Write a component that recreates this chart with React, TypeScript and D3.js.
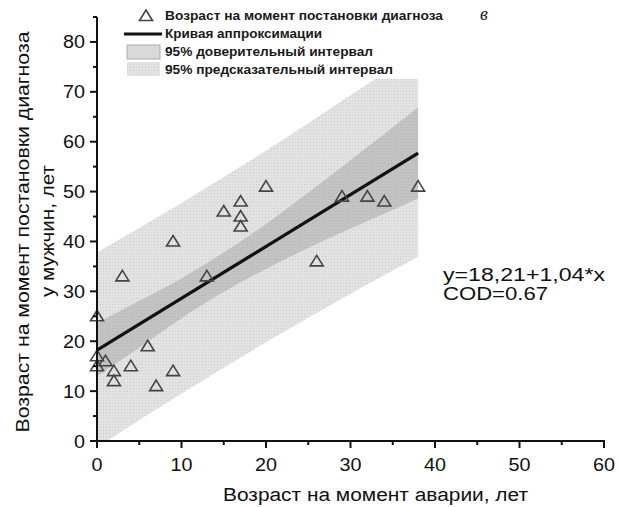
import React from "react";
import * as d3 from "d3";

// Scatter data: age at accident (x) vs age at diagnosis, men (y)
const pointX = [0, 0, 0, 1, 2, 2, 3, 4, 6, 7, 9, 9, 13, 15, 17, 17, 17, 20, 26, 29, 32, 34, 38];
const pointY = [25, 17, 15, 16, 14, 12, 33, 15, 19, 11, 14, 40, 33, 46, 48, 45, 43, 51, 36, 49, 49, 48, 51];

// Fit line y = 18.21 + 1.04*x drawn over x range
const fitIntercept = 18.21;
const fitSlope = 1.04;
const fitRange = [0, 38];

// Bands
const bandX = [0, 5, 10, 15, 20, 25, 30, 35, 38];
const ciLow = [13.0, 18.7, 24.6, 29.9, 34.5, 38.7, 42.6, 46.3, 48.6];
const ciHigh = [23.6, 28.1, 32.6, 37.8, 43.5, 49.8, 56.3, 62.9, 66.9];
const piLow = [-1.3, 4.2, 9.5, 14.7, 19.8, 24.7, 29.5, 34.2, 36.9];
const piHigh = [37.8, 42.7, 47.7, 52.9, 58.2, 63.7, 69.3, 75.0, 78.5];

const xMajor = [0, 10, 20, 30, 40, 50, 60];
const xMinor = [5, 15, 25, 35, 45, 55];
const yMajor = [0, 10, 20, 30, 40, 50, 60, 70, 80];
const yMinor = [5, 15, 25, 35, 45, 55, 65, 75, 85];

const legendLabels = [
  "Возраст на момент постановки диагноза",
  "Кривая аппроксимации",
  "95% доверительный интервал",
  "95% предсказательный интервал",
];
const legendWidths = [278, 157, 208, 228];

const xTitle = "Возраст на момент аварии, лет";
const yTitle1 = "Возраст на момент постановки диагноза";
const yTitle2 = "у мужчин, лет";
const eqText = "y=18,21+1,04*x";
const codText = "COD=0.67";
const panelLabel = "в";

const FONT = "'Liberation Sans', Arial, sans-serif";

export default function App() {
  const x = d3.scaleLinear().domain([0, 60]).range([97, 604]);
  const y = d3.scaleLinear().domain([0, 85]).range([441, 17]);

  const bandData = bandX.map((v, i) => ({ x: v, ciL: ciLow[i], ciH: ciHigh[i], piL: piLow[i], piH: piHigh[i] }));
  const piArea = d3
    .area<any>()
    .x((d) => x(d.x))
    .y0((d) => y(d.piL))
    .y1((d) => y(d.piH))
    .curve(d3.curveMonotoneX);
  const ciArea = d3
    .area<any>()
    .x((d) => x(d.x))
    .y0((d) => y(d.ciL))
    .y1((d) => y(d.ciH))
    .curve(d3.curveMonotoneX);
  const fitLine = d3
    .line<number>()
    .x((d) => x(d))
    .y((d) => y(fitIntercept + fitSlope * d));

  const tri = "M0,-6 L6.5,4.5 L-6.5,4.5 Z";

  const legendRows = [20, 38, 56, 74];

  return (
    <svg
      width={619}
      height={507}
      style={{ display: "block", position: "absolute", left: 0, top: 0 }}
    >
      <defs>
        <pattern id="piDots" width={3} height={3} patternUnits="userSpaceOnUse">
          <rect width={3} height={3} fill="#e2e2e2" />
          <rect x={1} y={1} width={1} height={1} fill="#cecece" />
        </pattern>
        <pattern id="ciDots" width={3} height={3} patternUnits="userSpaceOnUse">
          <rect width={3} height={3} fill="#c3c3c3" />
          <rect x={1} y={1} width={1} height={1} fill="#b6b6b6" />
        </pattern>
        <clipPath id="plotClip">
          <rect x={97} y={17} width={507} height={424} />
        </clipPath>
      </defs>
      <rect x={0} y={0} width={619} height={507} fill="#fff" />

      <g clipPath="url(#plotClip)">
        <path d={piArea(bandData) || ""} fill="url(#piDots)" />
        <path d={ciArea(bandData) || ""} fill="url(#ciDots)" />
        <path d={fitLine(fitRange) || ""} fill="none" stroke="#111" strokeWidth={3.2} />
      </g>

      {pointX.map((px, i) => (
        <path
          key={i}
          d={tri}
          transform={`translate(${x(px)},${y(pointY[i])})`}
          fill="none"
          stroke="#444"
          strokeWidth={1.6}
        />
      ))}

      {/* Legend */}
      <rect x={110} y={0} width={340} height={79} fill="#fff" />
      <path d={tri} transform="translate(146,16)" fill="none" stroke="#444" strokeWidth={1.6} />
      <line x1={124} x2={162} y1={34} y2={34} stroke="#111" strokeWidth={3} />
      <rect x={127} y={45} width={33} height={14} fill="#dadada" stroke="#aaa" strokeWidth={1} />
      <rect x={127} y={62} width={33} height={14} fill="url(#piDots)" />
      {legendLabels.map((t, i) => (
        <text
          key={i}
          x={165}
          y={legendRows[i]}
          fontFamily={FONT}
          fontWeight="bold"
          fontSize={12.5}
          fill="#1a1a1a"
          textLength={legendWidths[i]}
          lengthAdjust="spacingAndGlyphs"
        >
          {t}
        </text>
      ))}
      <text x={480} y={20} fontFamily="'Liberation Serif', serif" fontStyle="italic" fontSize={18} fill="#111">
        {panelLabel}
      </text>

      {/* Axes */}
      <line x1={97} x2={97} y1={17} y2={442} stroke="#111" strokeWidth={2} />
      <line x1={96} x2={605} y1={441} y2={441} stroke="#111" strokeWidth={2} />
      {xMajor.map((v) => (
        <g key={"xm" + v}>
          <line x1={x(v)} x2={x(v)} y1={441} y2={448} stroke="#111" strokeWidth={2} />
          <text
            x={x(v)}
            y={471}
            textAnchor="middle"
            fontFamily={FONT}
            fontSize={17.5}
            fill="#111"
            textLength={v === 0 ? 11 : 22}
            lengthAdjust="spacingAndGlyphs"
          >
            {v}
          </text>
        </g>
      ))}
      {xMinor.map((v) => (
        <line key={"xn" + v} x1={x(v)} x2={x(v)} y1={441} y2={445} stroke="#111" strokeWidth={2} />
      ))}
      {yMajor.map((v) => (
        <g key={"ym" + v}>
          <line x1={90} x2={97} y1={y(v)} y2={y(v)} stroke="#111" strokeWidth={2} />
          <text
            x={85}
            y={y(v) + 6.5}
            textAnchor="end"
            fontFamily={FONT}
            fontSize={17.5}
            fill="#111"
            textLength={v === 0 ? 11 : 22}
            lengthAdjust="spacingAndGlyphs"
          >
            {v}
          </text>
        </g>
      ))}
      {yMinor.map((v) => (
        <line key={"yn" + v} x1={93} x2={97} y1={y(v)} y2={y(v)} stroke="#111" strokeWidth={2} />
      ))}

      {/* Titles */}
      <text x={223} y={501} fontFamily={FONT} fontSize={18} fill="#111" textLength={305} lengthAdjust="spacingAndGlyphs">
        {xTitle}
      </text>
      <text
        transform="translate(29,232) rotate(-90)"
        textAnchor="middle"
        fontFamily={FONT}
        fontSize={18}
        fill="#111"
        textLength={401}
        lengthAdjust="spacingAndGlyphs"
      >
        {yTitle1}
      </text>
      <text
        transform="translate(54,231) rotate(-90)"
        textAnchor="middle"
        fontFamily={FONT}
        fontSize={18}
        fill="#111"
        textLength={132}
        lengthAdjust="spacingAndGlyphs"
      >
        {yTitle2}
      </text>

      <text x={443} y={281} fontFamily={FONT} fontSize={18} fill="#111" textLength={162} lengthAdjust="spacingAndGlyphs">
        {eqText}
      </text>
      <text x={443} y={300} fontFamily={FONT} fontSize={18} fill="#111" textLength={105} lengthAdjust="spacingAndGlyphs">
        {codText}
      </text>
    </svg>
  );
}
